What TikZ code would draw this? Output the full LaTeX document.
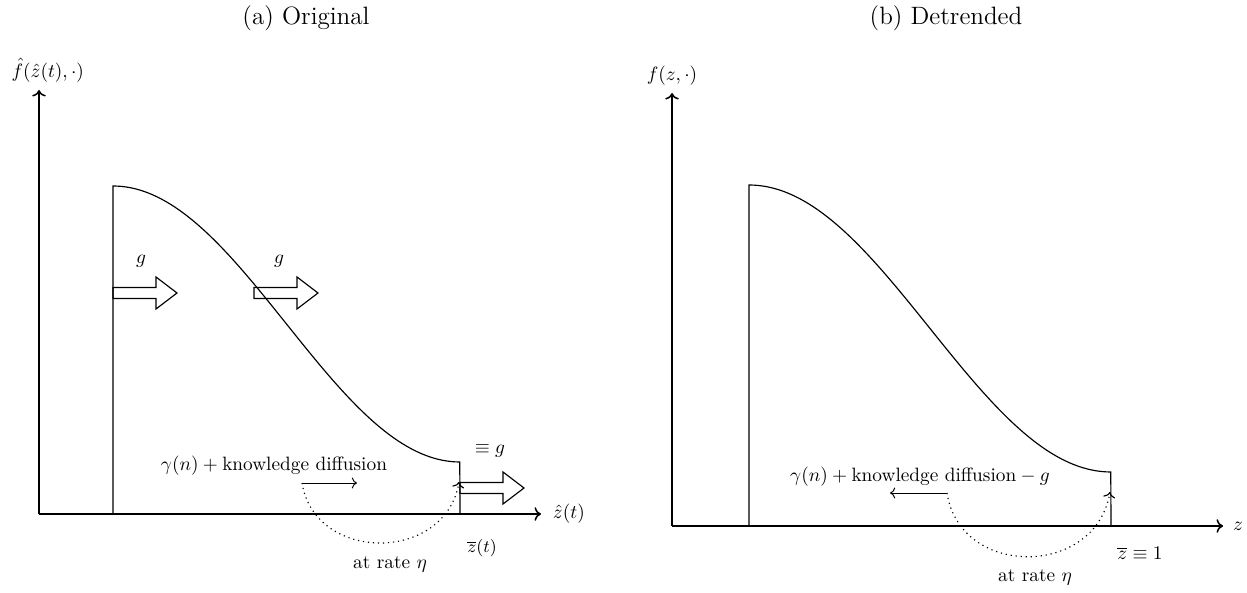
\documentclass[tikz,border=0pt]{standalone}
\usepackage{amsmath}
\usetikzlibrary{arrows.meta, positioning}

\begin{document}
\begin{tikzpicture}[
  x=0.0182cm, y=-0.0182cm,
  axis/.style={line width=0.8pt, ->},
  density/.style={line width=0.6pt},
  flow/.style={line width=0.5pt, ->},
  jump/.style={dotted, line width=0.6pt, ->},
  lbl/.style={inner sep=1pt},
  title/.style={inner sep=1pt, font=\fontsize{13}{15}\selectfont},
  fatarrow/.pic={\draw[line width=0.6pt] (0,-5.5) -- (43,-5.5) -- (43,-16) -- (64,0) -- (43,16) -- (43,5.5) -- (0,5.5) -- cycle;}
]
\useasboundingbox (0,0) rectangle (1247,593);

%  : -- Panel (a): original  : --
\node[title] (titleA) at (306,18) {(a) Original};
\coordinate (oA) at (39,514);
\coordinate (yendA) at (39,90);
\coordinate (xendA) at (541,514);
\draw[axis] (oA) -- (yendA);
\draw[axis] (oA) -- (xendA);
\node[lbl, above=3pt of yendA, xshift=0.16cm] (ylabA) {$\hat{f}(\hat{z}(t),\cdot)$};
\node[lbl, right=5pt of xendA] (xlabA) {$\hat{z}(t)$};

\draw[density] (113,514) -- (113,186)
  -- plot[domain=0:1, samples=80] ({113+347*\x}, {186+276*(1-cos(180*\x))/2})
  -- (460,514);

\pic at (113,293) {fatarrow};
\pic at (254,293) {fatarrow};
\pic at (460,488) {fatarrow};
\node[lbl] (gA1) at (141,261) {$g$};
\node[lbl] (gA2) at (279,261) {$g$};
\node[lbl] (gA3) at (490,451) {$\equiv g$};

\node[lbl] (diffA) at (274,466) {$\gamma(n) + \text{knowledge diffusion}$};
\coordinate (dA) at (302,483);
\coordinate (cutA) at (459,482);
\draw[flow] (dA) -- (357,483);
\draw[jump] (dA) .. controls (315,563) and (445,563) .. (cutA);
\node[lbl] (rateA) at (390,564) {at rate $\eta$};
\node[lbl] (zbarA) at (482,548) {\small $\overline{z}(t)$};

%  : -- Panel (b): detrended  : --
\node[title] (titleB) at (946,18) {(b) Detrended};
\coordinate (oB) at (672,526);
\coordinate (yendB) at (672,93);
\coordinate (xendB) at (1223,526);
\draw[axis] (oB) -- (yendB);
\draw[axis] (oB) -- (xendB);
\node[lbl, above=3pt of yendB] (ylabB) {$f(z,\cdot)$};
\node[lbl, right=4pt of xendB] (xlabB) {$z$};

\draw[density] (749,526) -- (749,185)
  -- plot[domain=0:1, samples=80] ({749+362*\x}, {185+287*(1-cos(180*\x))/2})
  -- (1111,526);

\node[lbl] (diffB) at (920,477) {$\gamma(n) + \text{knowledge diffusion} - g$};
\coordinate (dB) at (947,493);
\coordinate (cutB) at (1110,492);
\draw[flow] (dB) -- (890,493);
\draw[jump] (dB) .. controls (960,578) and (1095,578) .. (cutB);
\node[lbl] (rateB) at (1035,577) {at rate $\eta$};
\node[lbl] (zbarB) at (1140,553) {$\overline{z} \equiv 1$};

\end{tikzpicture}
\end{document}
